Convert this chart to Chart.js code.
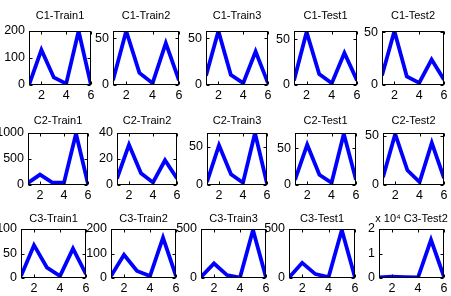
<!DOCTYPE html>
<html>
<head>
<meta charset="utf-8">
<script src="https://cdn.jsdelivr.net/npm/chart.js@4"></script>
<style>
  body { margin: 0; background: #fff; }
  #wrap { position: relative; width: 451px; height: 296px; overflow: hidden; background: #fff; }
  canvas { position: absolute; }
</style>
</head>
<body>
<div id="wrap"></div>
<script>
// datos de cada subgrafica (x = 1..6)
const xValues = [1, 2, 3, 4, 5, 6];
const xTickValues = [2, 4, 6];

const panelTitles = [
  'C1-Train1', 'C1-Train2', 'C1-Train3', 'C1-Test1', 'C1-Test2',
  'C2-Train1', 'C2-Train2', 'C2-Train3', 'C2-Test1', 'C2-Test2',
  'C3-Train1', 'C3-Train2', 'C3-Train3', 'C3-Test1', 'x 10\u2074 C3-Test2'
];

const c1Train1 = [0, 130, 28, 5, 200, 0];
const c1Train2 = [5, 58, 13, 2, 45, 5];
const c1Train3 = [10, 58, 11, 2, 36, 2];
const c1Test1 = [5, 58, 12, 2, 35, 5];
const c1Test2 = [9, 51, 8, 2, 24, 5];
const c2Train1 = [40, 200, 50, 45, 990, 20];
const c2Train2 = [5, 31, 9, 2, 19, 5];
const c2Train3 = [4, 52, 14, 3, 68, 2];
const c2Test1 = [7, 55, 14, 3, 70, 7];
const c2Test2 = [8, 52, 15, 3, 43, 7];
const c3Train1 = [4, 67, 21, 4, 60, 8];
const c3Train2 = [8, 95, 29, 8, 165, 8];
const c3Train3 = [10, 148, 30, 5, 490, 5];
const c3Test1 = [5, 155, 40, 10, 490, 5];
const c3Test2 = [200, 500, 300, 200, 15600, 500];

const panelValues = [
  c1Train1, c1Train2, c1Train3, c1Test1, c1Test2,
  c2Train1, c2Train2, c2Train3, c2Test1, c2Test2,
  c3Train1, c3Train2, c3Train3, c3Test1, c3Test2
];

const yMaxes = [200, 58, 58, 59, 51, 1000, 40, 68, 71, 53, 100, 200, 500, 500, 20000];

const yTickValues = [
  [0, 100, 200], [0, 50], [0, 50], [0, 50], [0, 50],
  [0, 500, 1000], [0, 20, 40], [0, 50], [0, 50], [0, 50],
  [0, 50, 100], [0, 100, 200], [0, 500], [0, 500], [0, 10000, 20000]
];
const yTickScale = [1, 1, 1, 1, 1, 1, 1, 1, 1, 1, 1, 1, 1, 1, 10000];

// posiciones de los ejes en la figura
const boxLeft = [29, 113, 206, 294, 382, 28, 117, 207, 295, 383, 21, 111, 201, 289, 379];
const boxRight = [91, 179, 268, 357, 444, 88, 177, 267, 356, 444, 86, 176, 266, 355, 444];
const rowTop = [31, 133, 229];
const rowBottom = [85, 185, 278];
const rowTitleGap = [15, 12, 10];

const padL = 36, padR = 8, padT = 26, padB = 18;
const tickFont = { family: '"Liberation Sans Narrow", "Liberation Sans", Arial, sans-serif', size: 12.5 };

const framePlugin = {
  id: 'frame',
  afterDraw(chart) {
    const ctx = chart.ctx;
    const a = chart.chartArea;
    const opts = chart.options.plugins.frame;
    ctx.save();
    ctx.strokeStyle = '#000';
    ctx.lineWidth = 1;
    const l = Math.round(a.left) + 0.5, r = Math.round(a.right) - 0.5;
    const t = Math.round(a.top) + 0.5, b = Math.round(a.bottom) - 0.5;
    ctx.strokeRect(l, t, r - l, b - t);
    ctx.beginPath();
    chart.scales.x.ticks.forEach(tk => {
      const px = Math.round(chart.scales.x.getPixelForValue(tk.value)) + 0.5;
      ctx.moveTo(px, b); ctx.lineTo(px, b - 3);
      ctx.moveTo(px, t); ctx.lineTo(px, t + 3);
    });
    chart.scales.y.ticks.forEach(tk => {
      const py = Math.round(chart.scales.y.getPixelForValue(tk.value)) + 0.5;
      ctx.moveTo(l, py); ctx.lineTo(l + 3, py);
      ctx.moveTo(r, py); ctx.lineTo(r - 3, py);
    });
    ctx.stroke();
    ctx.fillStyle = '#000';
    ctx.font = '11px "Liberation Sans", Arial, sans-serif';
    ctx.textAlign = 'center';
    ctx.textBaseline = 'middle';
    ctx.fillText(opts.title, (a.left + a.right) / 2, a.top - opts.gap);
    ctx.restore();
  }
};

function dibujarPanel(i) {
  const row = Math.floor(i / 5);
  const w = boxRight[i] - boxLeft[i] + padL + padR;
  const h = rowBottom[row] - rowTop[row] + padT + padB;
  const canvas = document.createElement('canvas');
  canvas.width = w;
  canvas.height = h;
  canvas.style.left = (boxLeft[i] - padL) + 'px';
  canvas.style.top = (rowTop[row] - padT) + 'px';
  canvas.style.width = w + 'px';
  canvas.style.height = h + 'px';
  document.getElementById('wrap').appendChild(canvas);

  const ticksY = yTickValues[i];
  const divisor = yTickScale[i];

  new Chart(canvas.getContext('2d'), {
    type: 'line',
    data: {
      datasets: [{
        data: panelValues[i].map((v, k) => ({ x: xValues[k], y: v })),
        borderColor: '#0000ff',
        borderWidth: 3.8,
        pointRadius: 0,
        tension: 0,
        fill: false
      }]
    },
    options: {
      responsive: false,
      animation: false,
      devicePixelRatio: 1,
      layout: { padding: { top: padT, right: padR, bottom: 0, left: 0 } },
      scales: {
        x: {
          type: 'linear',
          min: 1,
          max: 6,
          grid: { display: false, drawTicks: false, tickLength: 0 },
          border: { display: false },
          ticks: { color: '#000', font: tickFont, padding: 3, maxRotation: 0 },
          afterBuildTicks: s => { s.ticks = xTickValues.map(v => ({ value: v })); },
          afterFit: s => { s.height = padB; s.paddingLeft = 0; s.paddingRight = 0; }
        },
        y: {
          min: 0,
          max: yMaxes[i],
          grid: { display: false, drawTicks: false, tickLength: 0 },
          border: { display: false },
          ticks: {
            color: '#000',
            font: tickFont,
            padding: 4,
            callback: v => String(v / divisor)
          },
          afterBuildTicks: s => { s.ticks = ticksY.map(v => ({ value: v })); },
          afterFit: s => { s.width = padL; s.paddingTop = 0; s.paddingBottom = 0; }
        }
      },
      plugins: {
        legend: { display: false },
        title: { display: false },
        tooltip: { enabled: false },
        frame: { title: panelTitles[i], gap: rowTitleGap[row] }
      }
    },
    plugins: [framePlugin]
  });
}

panelTitles.forEach((t, i) => dibujarPanel(i));
</script>
</body>
</html>
